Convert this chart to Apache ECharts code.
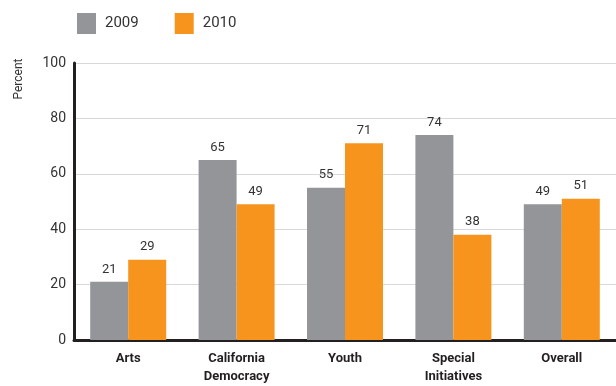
<!DOCTYPE html>
<html>
<head>
<meta charset="utf-8">
<script src="https://cdn.jsdelivr.net/npm/echarts@6/dist/echarts.min.js"></script>
<style>
  html, body { margin: 0; padding: 0; background: #fff; }
  #chart { width: 616px; height: 386px; }
</style>
</head>
<body>
<div id="chart"></div>
<script>
// Program areas and yearly percentages
const categories = ['Arts', 'California\nDemocracy', 'Youth', 'Special\nInitiatives', 'Overall'];
const values2009 = [21, 65, 55, 74, 49];
const values2010 = [29, 49, 71, 38, 51];
const yTicks = [0, 20, 40, 60, 80, 100];

const FONT = 'Roboto, "Liberation Sans", sans-serif';
const GRAY = '#939598';
const ORANGE = '#f7941d';

const chart = echarts.init(document.getElementById('chart'), null, { renderer: 'canvas' });

const labelStyle = {
  show: true,
  position: 'top',
  distance: 6,
  color: '#333',
  fontSize: 13,
  fontFamily: FONT
};

chart.setOption({
  animation: false,
  textStyle: { fontFamily: FONT },
  legend: {
    left: 72,
    top: 8,
    itemWidth: 19,
    itemHeight: 21,
    itemGap: 36,
    icon: 'rect',
    textStyle: { fontSize: 15, color: '#333', fontFamily: FONT, padding: [0, 0, 0, 4] },
    data: ['2009', '2010']
  },
  graphic: [{
    type: 'text',
    x: 19,
    y: 79,
    rotation: Math.PI / 2,
    style: {
      text: 'Percent',
      fontSize: 12,
      fill: '#333',
      fontFamily: FONT,
      align: 'center',
      verticalAlign: 'middle'
    }
  }],
  grid: { left: 74, top: 63, width: 545, height: 279, containLabel: false },
  xAxis: {
    type: 'category',
    data: categories,
    axisLine: { lineStyle: { color: '#231f20', width: 3 } },
    axisTick: { show: false },
    axisLabel: {
      interval: 0,
      margin: 10,
      fontSize: 13,
      fontWeight: 'bold',
      color: '#231f20',
      lineHeight: 18,
      fontFamily: FONT
    }
  },
  yAxis: {
    type: 'value',
    min: yTicks[0],
    max: yTicks[yTicks.length - 1],
    interval: 20,
    axisLine: { show: true, lineStyle: { color: '#231f20', width: 3 } },
    axisTick: { show: false },
    splitLine: { lineStyle: { color: '#d9d9d9', width: 1 } },
    axisLabel: { fontSize: 14, color: '#333', margin: 8, fontFamily: FONT }
  },
  series: [
    {
      name: '2009',
      type: 'bar',
      data: values2009,
      itemStyle: { color: GRAY },
      barWidth: 38,
      barGap: '0%',
      label: labelStyle
    },
    {
      name: '2010',
      type: 'bar',
      data: values2010,
      itemStyle: { color: ORANGE },
      barWidth: 38,
      barGap: '0%',
      label: labelStyle
    }
  ]
});
</script>
</body>
</html>
